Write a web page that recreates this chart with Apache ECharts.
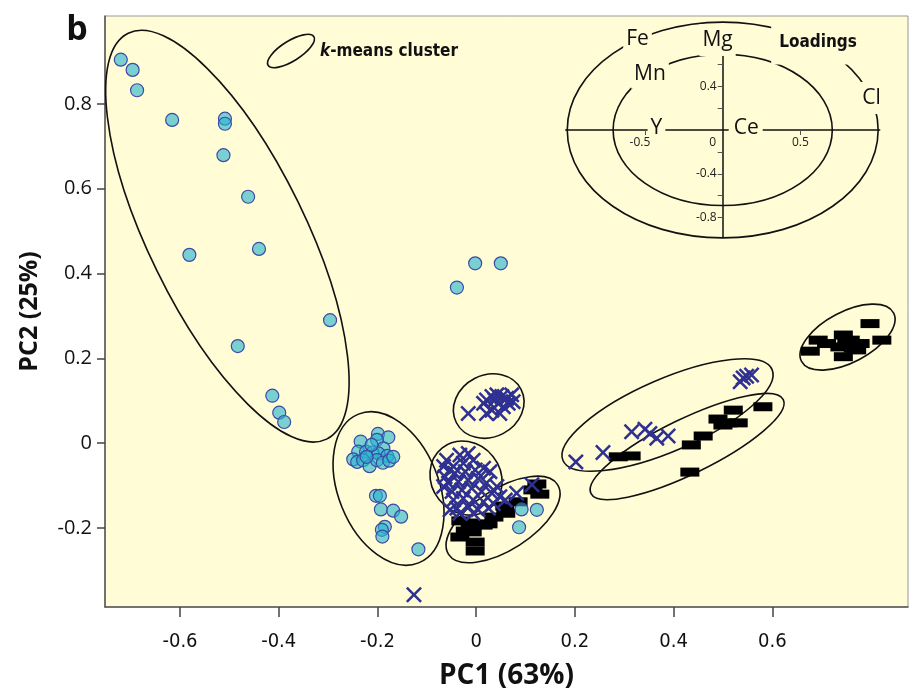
<!DOCTYPE html>
<html><head><meta charset="utf-8">
<script src="https://cdn.jsdelivr.net/npm/echarts@6/dist/echarts.min.js"></script>
<style>html,body{margin:0;padding:0;background:#fff}#c{width:910px;height:693px}</style>
</head><body><div id="c"></div>
<script>
// ---- data ----
const xTicks = [-0.6, -0.4, -0.2, 0, 0.2, 0.4, 0.6];
const yTicks = [-0.2, 0, 0.2, 0.4, 0.6, 0.8];

const cyanPoints = [
  [-0.720,0.904],[-0.696,0.880],[-0.687,0.832],[-0.616,0.762],[-0.509,0.765],[-0.509,0.753],
  [-0.512,0.679],[-0.462,0.581],[-0.581,0.444],[-0.440,0.458],[-0.296,0.290],[-0.483,0.229],
  [-0.413,0.112],[-0.399,0.072],[-0.389,0.050],
  [-0.039,0.367],[-0.002,0.424],[0.050,0.424],
  [-0.199,0.022],[-0.178,0.014],[-0.201,0.008],[-0.234,0.004],[-0.188,-0.012],[-0.239,-0.020],
  [-0.223,-0.020],[-0.210,-0.022],[-0.198,-0.024],[-0.180,-0.030],[-0.249,-0.038],[-0.241,-0.044],
  [-0.229,-0.040],[-0.216,-0.054],[-0.201,-0.040],[-0.189,-0.046],[-0.176,-0.041],[-0.168,-0.032],
  [-0.212,-0.004],[-0.222,-0.032],
  [-0.203,-0.124],[-0.195,-0.124],[-0.193,-0.156],[-0.168,-0.159],[-0.152,-0.173],[-0.185,-0.197],
  [-0.191,-0.204],[-0.190,-0.220],[-0.117,-0.250],
  [0.092,-0.156],[0.123,-0.157],[0.087,-0.198]
];

const crossPoints = [
  [-0.016,0.070],[0.021,0.102],[0.032,0.110],[0.042,0.114],[0.052,0.110],[0.062,0.106],[0.072,0.114],
  [0.075,0.098],[0.045,0.094],[0.032,0.078],[0.048,0.070],[0.021,0.070],[0.055,0.086],[0.038,0.102],
  [0.065,0.094],[0.015,0.094],
  [-0.060,-0.040],[-0.033,-0.028],[-0.016,-0.024],[-0.046,-0.055],[-0.026,-0.047],[-0.006,-0.040],
  [-0.063,-0.079],[-0.043,-0.071],[-0.022,-0.067],[-0.002,-0.063],[0.015,-0.059],[0.028,-0.067],
  [-0.056,-0.094],[-0.036,-0.091],[-0.016,-0.087],[0.004,-0.083],[0.021,-0.094],[0.042,-0.102],
  [-0.049,-0.114],[-0.029,-0.110],[-0.009,-0.106],[0.011,-0.114],[0.032,-0.118],[-0.046,-0.134],
  [-0.026,-0.130],[-0.006,-0.134],[0.015,-0.138],[0.035,-0.142],[-0.039,-0.153],[-0.016,-0.150],
  [0.004,-0.157],[0.025,-0.153],[-0.053,-0.157],[-0.066,-0.102],[0.048,-0.126],[-0.033,-0.165],
  [-0.006,-0.165],[-0.053,-0.063],[-0.066,-0.055],
  [0.082,-0.118],[0.113,-0.098],[0.059,-0.134],
  [-0.126,-0.357],
  [0.202,-0.044],[0.257,-0.022],[0.315,0.027],[0.342,0.033],[0.352,0.023],[0.366,0.012],[0.389,0.017],
  [0.535,0.145],[0.548,0.158],[0.558,0.161],[0.541,0.154]
];

const blackPoints = [
  [-0.031,-0.183],[-0.012,-0.188],[0.014,-0.193],[-0.008,-0.209],[-0.033,-0.221],[-0.002,-0.233],
  [-0.002,-0.254],[0.024,-0.190],[0.036,-0.174],[0.060,-0.165],[0.058,-0.148],[0.085,-0.138],
  [0.115,-0.110],[0.129,-0.120],[0.123,-0.096],[-0.022,-0.207],
  [0.288,-0.032],[0.314,-0.030],[0.433,-0.068],[0.436,-0.004],[0.460,0.017],[0.490,0.057],
  [0.510,0.048],[0.521,0.078],[0.531,0.048],[0.581,0.086],[0.500,0.043],
  [0.798,0.282],[0.693,0.243],[0.677,0.217],[0.744,0.255],[0.758,0.243],[0.778,0.235],
  [0.822,0.243],[0.737,0.227],[0.764,0.224],[0.744,0.204],[0.771,0.220],[0.710,0.235],[0.751,0.239]
];

// k-means cluster ellipses: [centerX, centerY, majorEndX, majorEndY, minorEndX, minorEndY]
const clusterEllipses = [
  [-0.504, 0.488, -0.303, 0.0097, -0.361, 0.569],
  [-0.1775, -0.1067, -0.1166, -0.282, -0.1007, -0.0291],
  [0.0255, 0.0876, 0.0910, 0.1269, 0.0545, 0.0228],
  [-0.0205, -0.0820, 0.0276, -0.1533, 0.0347, -0.0320],
  [0.0545, -0.1797, 0.1649, -0.0975, 0.0878, -0.2400],
  [0.3878, 0.0664, 0.5996, 0.1736, 0.4174, -0.0111],
  [0.4274, -0.0078, 0.6223, 0.1027, 0.4521, -0.0659],
  [0.7525, 0.2501, 0.8457, 0.3072, 0.7765, 0.1974]
];

// loadings inset
const loadingNames = ['Fe', 'Mg', 'Mn', 'Cl', 'Y', 'Ce'];
const loadingPos = [[-0.548,0.826],[-0.033,0.822],[-0.468,0.511],[0.958,0.292],[-0.426,0.018],[0.148,0.014]];
const insetCircles = [[0,0,1.0,0,0,0.985],[0,0,0.705,0,0,0.69]];
const insetXLabels = [-0.5, 0, 0.5];
const insetXTicks = [-0.5, 0.5];
const insetYLabels = [-0.8, -0.4, 0.4];
const insetYTicks = [-0.8, -0.6, -0.4, -0.2, 0.2, 0.4, 0.6];

// ---- styles ----
const BG = '#fffcd6';
const NARROW = "'Liberation Sans Narrow','DejaVu Sans Condensed',sans-serif";
const labelStyle = {
  Fe: { padding: [2, 3, 2, 3] },
  Mg: { padding: [10, 3, 1, 3] },
  Mn: { padding: [3, 3, 5, 3] },
  Cl: { padding: [5, 3, 6, 3] },
  Y: { padding: [0, 3, 0, 3], lineHeight: 16 },
  Ce: { padding: [0, 4, 0, 5], lineHeight: 16 }
};
const crossPath = 'path://M0,1.8L1.8,0L8,6.2L14.2,0L16,1.8L9.8,8L16,14.2L14.2,16L8,9.8L1.8,16L0,14.2L6.2,8Z';

function ellipseItem(params, api) {
  const c = api.coord([api.value(0), api.value(1)]);
  const m = api.coord([api.value(2), api.value(3)]);
  const n = api.coord([api.value(4), api.value(5)]);
  const rx = Math.hypot(m[0] - c[0], m[1] - c[1]);
  const ry = Math.hypot(n[0] - c[0], n[1] - c[1]);
  const rot = -Math.atan2(m[1] - c[1], m[0] - c[0]);
  return {
    type: 'ellipse', x: c[0], y: c[1], rotation: rot,
    shape: { cx: 0, cy: 0, rx: rx, ry: ry },
    style: { fill: 'none', stroke: '#111', lineWidth: 1.6 }
  };
}

const insetLabelRich = {
  z: { padding: [0, 20, 0, 0], fontFamily: 'Open Sans', fontSize: 12, color: '#222' },
  m: { padding: [0, 10, 0, 0], fontFamily: 'Open Sans', fontSize: 12, color: '#222' }
};

const chart = echarts.init(document.getElementById('c'), null, { renderer: 'canvas' });
chart.setOption({
  animation: false,
  backgroundColor: '#fff',
  grid: [
    { left: 105, top: 16, width: 803, height: 591, show: true, backgroundColor: BG, borderColor: '#999', borderWidth: 1, containLabel: false, outerBoundsMode: 'none' },
    { left: 565.7, top: 53.3, width: 314, height: 184, show: false, containLabel: false, outerBoundsMode: 'none' }
  ],
  xAxis: [
    {
      gridIndex: 0, type: 'value', min: -0.752, max: 0.875, position: 'bottom',
      axisLine: { show: true, onZero: false, lineStyle: { color: '#555', width: 1.5 } },
      axisTick: { show: true, customValues: xTicks, length: 10, lineStyle: { color: '#444', width: 1.5 } },
      axisLabel: { customValues: xTicks, margin: 25, fontFamily: NARROW, fontSize: 20, color: '#111', formatter: v => String(v) },
      splitLine: { show: false },
      name: 'PC1 (63%)', nameLocation: 'middle', nameGap: 55,
      nameTextStyle: { fontFamily: 'Open Sans', fontWeight: 'bold', fontSize: 28, color: '#111' }
    },
    {
      gridIndex: 1, type: 'value', min: -1.01, max: 1.01, position: 'bottom', offset: -107.3,
      axisLine: { show: true, onZero: false, lineStyle: { color: '#111', width: 1.5 } },
      axisTick: { show: true, customValues: insetXTicks, length: 5, lineStyle: { color: '#555' } },
      axisLabel: {
        customValues: insetXLabels, margin: 7, fontFamily: 'Open Sans', fontSize: 12, color: '#222',
        formatter: v => v === 0 ? '{z|0}' : (v < 0 ? '{m|' + v + '}' : String(v)),
        rich: insetLabelRich
      },
      splitLine: { show: false }
    }
  ],
  yAxis: [
    {
      gridIndex: 0, type: 'value', min: -0.386, max: 1.007, position: 'left',
      axisLine: { show: true, onZero: false, lineStyle: { color: '#555', width: 1.5 } },
      axisTick: { show: true, customValues: yTicks, length: 8, lineStyle: { color: '#444', width: 1.5 } },
      axisLabel: { customValues: yTicks, margin: 13, fontFamily: 'Open Sans', fontSize: 20, color: '#111', formatter: v => String(v) },
      splitLine: { show: false },
      name: 'PC2 (25%)', nameLocation: 'middle', nameGap: 63,
      nameTextStyle: { fontFamily: 'Open Sans', fontWeight: 'bold', fontSize: 25, color: '#111' }
    },
    {
      gridIndex: 1, type: 'value', min: -0.98, max: 0.70, position: 'left', offset: -157,
      axisLine: { show: true, onZero: false, lineStyle: { color: '#111', width: 1.5 } },
      axisTick: { show: true, customValues: insetYTicks, length: 5, lineStyle: { color: '#555' } },
      axisLabel: { customValues: insetYLabels, margin: 6, fontFamily: 'Open Sans', fontSize: 12, color: '#222', formatter: v => String(v) },
      splitLine: { show: false }
    }
  ],
  series: [
    { type: 'custom', name: 'clusters', xAxisIndex: 0, yAxisIndex: 0, data: clusterEllipses, renderItem: ellipseItem, silent: true, clip: false, z: 2 },
    { type: 'custom', name: 'loadingCircles', xAxisIndex: 1, yAxisIndex: 1, data: insetCircles, renderItem: ellipseItem, silent: true, clip: false, z: 2 },
    {
      type: 'scatter', name: 'group3', xAxisIndex: 0, yAxisIndex: 0, data: blackPoints,
      symbol: 'rect', symbolSize: [19, 9], itemStyle: { color: '#000', opacity: 1 }, z: 3
    },
    {
      type: 'scatter', name: 'group1', xAxisIndex: 0, yAxisIndex: 0, data: cyanPoints,
      symbol: 'circle', symbolSize: 13,
      itemStyle: { color: 'rgba(40,180,207,0.62)', borderColor: '#3c4aa6', borderWidth: 1.2, opacity: 1 }, z: 4
    },
    {
      type: 'scatter', name: 'group2', xAxisIndex: 0, yAxisIndex: 0, data: crossPoints,
      symbol: crossPath, symbolSize: 16, itemStyle: { color: '#2e3192', opacity: 1 }, z: 5
    },
    {
      type: 'scatter', name: 'loadings', xAxisIndex: 1, yAxisIndex: 1, z: 10, silent: true, clip: false,
      symbol: 'circle', symbolSize: 1, itemStyle: { color: BG, opacity: 1 },
      data: loadingNames.map((n, i) => ({
        name: n, value: loadingPos[i],
        label: labelStyle[n]
      })),
      label: {
        show: true, position: 'inside', formatter: p => p.name, opacity: 1,
        fontFamily: 'Open Sans', fontSize: 21, color: '#111', textBorderWidth: 0, backgroundColor: BG
      }
    }
  ],
  graphic: [
    { type: 'text', x: 77, y: 30, z: 100, style: { text: 'b', fontFamily: 'Open Sans', fontWeight: 'bold', fontSize: 34, fill: '#111', align: 'center', verticalAlign: 'middle' } },
    { type: 'ellipse', x: 291, y: 51, rotation: 0.56, z: 100, shape: { cx: 0, cy: 0, rx: 27, ry: 10 }, style: { fill: 'none', stroke: '#111', lineWidth: 1.6 } },
    {
      type: 'text', x: 320, y: 52, z: 100,
      style: {
        text: '{i|k}{n|-means cluster}', verticalAlign: 'middle', align: 'left',
        rich: {
          i: { fontFamily: NARROW, fontStyle: 'italic', fontWeight: 'bold', fontSize: 17, fill: '#111' },
          n: { fontFamily: NARROW, fontWeight: 'bold', fontSize: 17, fill: '#111' }
        }
      }
    },
    {
      type: 'text', x: 815, y: 43, z: 100,
      style: {
        text: 'Loadings', fontFamily: NARROW, fontWeight: 'bold', fontSize: 17, fill: '#111',
        align: 'center', verticalAlign: 'middle', backgroundColor: BG, padding: [11, 2, 15, 8]
      }
    }
  ]
});
</script></body></html>
